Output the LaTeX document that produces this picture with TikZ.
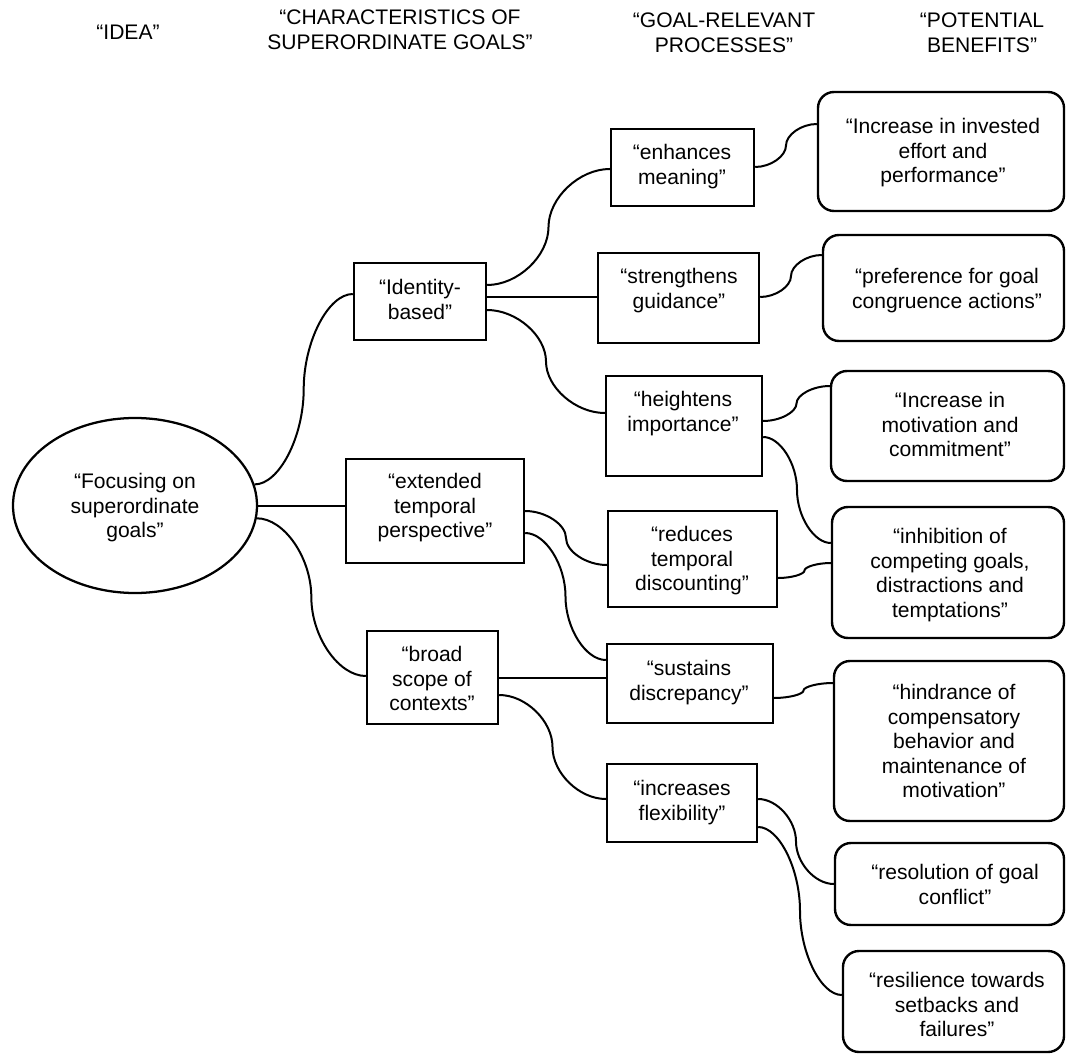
\documentclass[tikz,border=0pt]{standalone}
\usepackage{fontspec}
\setmainfont{Liberation Sans}
\usetikzlibrary{calc,shapes.geometric}
\newcommand\fs{\fontsize{15.8pt}{18.4pt}\selectfont}
\newcommand\curvedlink[2]{%
  \path (#1) coordinate (cs) (#2) coordinate (ce);
  \path ($(cs)!.25!(ce)$) coordinate (ca) ($(cs)!.5!(ce)$) coordinate (cm) ($(cs)!.75!(ce)$) coordinate (cb);
  \draw[conn] (cs) .. controls (ca |- cs) and (cm |- ca) .. (cm) .. controls (cm |- cb) and (cb |- ce) .. (ce);}
\newcommand\boxnode[6]{\node[#6, minimum width={(#3-#2)*0.75pt}, minimum height={(#5-#4)*0.75pt}] (#1) at ({(#2+#3)/2},{(#4+#5)/2}) {};}
\tikzset{
  sq/.style={draw, line width=1.8pt, inner sep=0pt, rectangle},
  rb/.style={draw, line width=1.8pt, inner sep=0pt, rectangle, rounded corners=12pt},
  conn/.style={line width=1.5pt},
  txt/.style={inner sep=0pt, anchor=north, align=center, font=\fs},
}
\begin{document}
\begin{tikzpicture}[x=0.75pt, y=-0.75pt]
\useasboundingbox (0,0) rectangle (1067,1055);
% headers
\node[txt] (h1) at (128,25) {“IDEA”};
\node[txt] (h2) at (400,10) {“CHARACTERISTICS OF\\SUPERORDINATE GOALS”};
\node[txt] (h3) at (724,13) {“GOAL-RELEVANT\\PROCESSES”};
\node[txt] (h4) at (982,13) {“POTENTIAL\\BENEFITS”};
% idea
\node[draw, ellipse, line width=1.7pt, inner sep=0pt, minimum width={244*0.75pt}, minimum height={175*0.75pt}] (focus) at (135,505.5) {};
\node[txt] (focus-t) at (135,473) {“Focusing on\\superordinate\\goals”};
% characteristics
\boxnode{id}{354}{486}{263}{340}{sq}
\node[txt] (id-t) at (420,279) {“Identity-\\based”};
\boxnode{ext}{346}{524}{459}{563}{sq}
\node[txt] (ext-t) at (435,473) {“extended\\temporal\\perspective”};
\boxnode{broad}{367}{498}{631}{724}{sq}
\node[txt] (broad-t) at (432,646) {“broad\\scope of\\contexts”};
% processes
\boxnode{enh}{611}{754}{129}{206}{sq}
\node[txt] (enh-t) at (682,144) {“enhances\\meaning”};
\boxnode{str}{598}{759}{253}{343}{sq}
\node[txt] (str-t) at (679,268) {“strengthens\\guidance”};
\boxnode{hei}{606}{762}{376}{476}{sq}
\node[txt] (hei-t) at (683,391) {“heightens\\importance”};
\boxnode{red}{608}{777}{511}{607}{sq}
\node[txt] (red-t) at (692,526) {“reduces\\temporal\\discounting”};
\boxnode{sus}{607}{773}{644}{723}{sq}
\node[txt] (sus-t) at (689,660) {“sustains\\discrepancy”};
\boxnode{inc}{607}{757}{764}{842}{sq}
\node[txt] (inc-t) at (682,780) {“increases\\flexibility”};
% benefits
\boxnode{b1}{818}{1064}{92}{211}{rb}
\node[txt] (b1-t) at (943,118) {“Increase in invested\\effort and\\performance”};
\boxnode{b2}{823}{1064}{235}{341}{rb}
\node[txt] (b2-t) at (947,268) {“preference for goal\\congruence actions”};
\boxnode{b3}{831}{1064}{371}{481}{rb}
\node[txt] (b3-t) at (950,392) {“Increase in\\motivation and\\commitment”};
\boxnode{inh}{832}{1064}{507}{638}{rb}
\node[txt] (inh-t) at (950,528) {“inhibition of\\competing goals,\\distractions and\\temptations”};
\boxnode{hin}{834}{1064}{661}{821}{rb}
\node[txt] (hin-t) at (954,684) {“hindrance of\\compensatory\\behavior and\\maintenance of\\motivation”};
\boxnode{res}{835}{1064}{843}{925}{rb}
\node[txt] (res-t) at (955,864) {“resolution of goal\\conflict”};
\boxnode{resi}{843}{1064}{951}{1052}{rb}
\node[txt] (resi-t) at (957,972) {“resilience towards\\setbacks and\\failures”};
% connectors
\curvedlink{focus.10.6}{id.west |- 0,294}
\draw[conn] (focus.east) -- (ext.west |- focus.east);
\curvedlink{focus.-6}{broad.west |- 0,676}
\curvedlink{id.east |- 0,285}{enh.west |- 0,169}
\draw[conn] (id.east |- 0,297) -- (str.west |- 0,297);
\curvedlink{id.east |- 0,310}{hei.west |- 0,413}
\curvedlink{ext.east |- 0,511}{red.west |- 0,565}
\curvedlink{ext.east |- 0,533}{sus.west |- 0,660}
\draw[conn] (broad.east |- 0,678) -- (sus.west |- 0,678);
\curvedlink{broad.east |- 0,695}{inc.west |- 0,799}
\curvedlink{enh.east |- 0,167}{b1.west |- 0,124}
\curvedlink{str.east |- 0,297}{b2.west |- 0,255}
\curvedlink{hei.east |- 0,421}{b3.west |- 0,386}
\curvedlink{hei.east |- 0,437}{inh.west |- 0,543}
\curvedlink{red.east |- 0,578}{inh.west |- 0,563}
\curvedlink{sus.east |- 0,698}{hin.west |- 0,683}
\curvedlink{inc.east |- 0,799}{res.west |- 0,884}
\curvedlink{inc.east |- 0,827}{resi.west |- 0,995}
\end{tikzpicture}
\end{document}
